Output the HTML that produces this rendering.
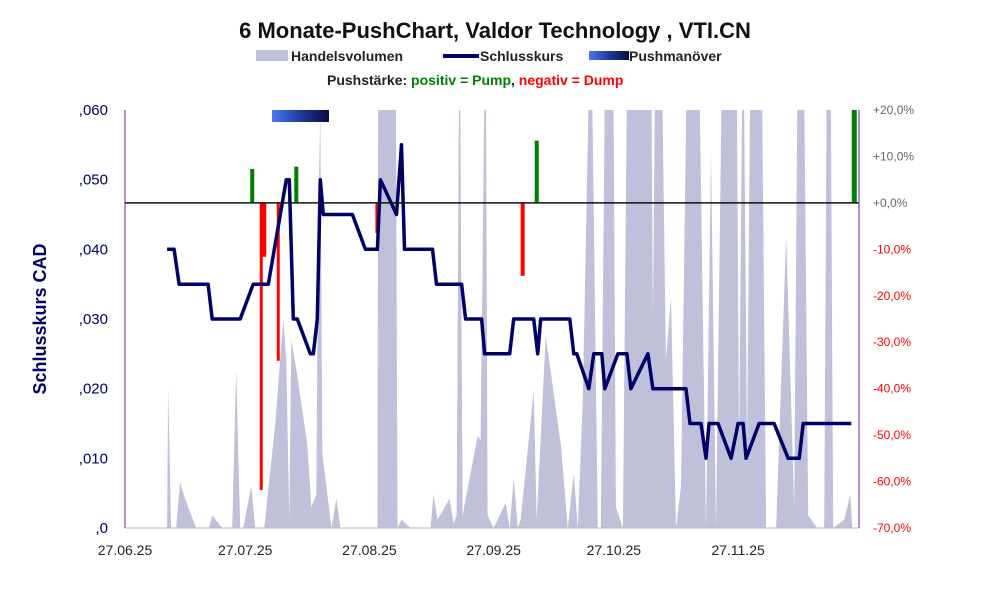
<!DOCTYPE html>
<html><head><meta charset="utf-8"><style>
body{margin:0;background:#fff;width:991px;height:593px;overflow:hidden;font-family:"Liberation Sans",sans-serif}
</style></head><body>
<svg id="chart" width="991" height="593" xmlns="http://www.w3.org/2000/svg">
<defs>
<linearGradient id="pg" x1="0" x2="1" y1="0" y2="0"><stop offset="0" stop-color="#4a78f0"/><stop offset="0.5" stop-color="#1f3a9a"/><stop offset="1" stop-color="#0a0a40"/></linearGradient>
<clipPath id="clip"><rect x="125" y="110" width="734" height="418"/></clipPath>
</defs>
<text x="495" y="38" text-anchor="middle" font-size="22" font-weight="bold" fill="#111">6 Monate-PushChart, Valdor Technology , VTI.CN</text>
<g font-size="14" font-weight="bold" fill="#222">
<rect x="256" y="50" width="32" height="11" fill="#c0c0da"/>
<text x="291" y="61">Handelsvolumen</text>
<rect x="443" y="54" width="36" height="4" fill="#000066"/>
<text x="480" y="61">Schlusskurs</text>
<rect x="589" y="51" width="40" height="9" fill="url(#pg)"/>
<text x="629" y="61">Pushmanöver</text>
<text x="327" y="85">Pushstärke:  <tspan fill="#008000">positiv = Pump</tspan>,  <tspan fill="#ff0000">negativ = Dump</tspan></text>
</g>
<text transform="translate(46,319) rotate(-90)" text-anchor="middle" font-size="18" font-weight="bold" fill="#000066">Schlusskurs CAD</text>
<g id="vol" clip-path="url(#clip)"></g>
<g id="push"></g>
<g id="price"></g>
<g id="axes"></g>
</svg>
<script>
const priceDays=[10.5,12.25,13.5,20.75,21.75,28.75,32,35.75,40.25,41,42,43,46.25,47,48,48.75,49.5,56.75,60,63,63.75,67.75,69,69.75,76.75,77.75,84,85,89,89.75,96,97,102,103,103.75,111,112,112.75,115.75,117,119,119.75,123,125.25,126.25,130.5,131.75,140,141,143.75,145,145.75,148,151.25,153,154.25,155,158.25,162,165.5,168.25,169.25,181.25];
const priceVals=[.040,.040,.035,.035,.030,.030,.035,.035,.050,.050,.030,.030,.025,.025,.030,.050,.045,.045,.040,.040,.050,.045,.055,.040,.040,.035,.035,.030,.030,.025,.025,.030,.030,.025,.030,.030,.025,.025,.020,.025,.025,.020,.025,.025,.020,.025,.020,.020,.015,.015,.010,.015,.015,.010,.015,.015,.010,.015,.015,.010,.010,.015,.015];
const volDays=[0,10.5,10.75,11.5,12.75,13.75,15,17.75,21,21.75,24.25,26.75,27.75,28.75,29.5,31.5,32.5,34.75,37.5,39.5,40.25,41,41.5,42.75,45.5,46.5,47.75,48.25,48.75,49.25,51.5,52.75,53.75,60,63,63.25,67.5,68,69,71.25,76.25,77,78,81,82,82.75,83.5,84.25,88,88.75,90,90.5,92,95,96,97,98,98.75,102,102.75,105,108.75,110.5,112,113,114.25,116.25,118,118.75,120,121.75,122.5,124.25,125.5,131.25,131.75,132.5,133.75,135,136.25,137.5,138.75,140.5,143,145,146.25,147.5,149.25,152.5,153.25,154.25,155.25,156.25,158.75,160,162.5,165,167,168,169.25,170.5,172.75,174.5,175.25,176,176.75,179.5,181,181.5,183.5];
const volVals=[0,0,34,0,0,11,7,0,0,3,0,0,38,0,0,10,0,0,25,50,40,2,45,38,20,5,8,75,100,18,0,7,0,0,0,130,130,0,2,0,0,8,2,7,1,3,130,3,22,21,130,3,0,6,0,12,0,2,33,2,46,20,0,13,0,31,130,0,0,130,130,5,0,130,130,50,130,130,40,55,0,10,130,130,0,90,0,130,130,20,130,20,130,130,0,0,70,5,130,130,3,0,0,130,130,0,2,8,0,0];
const pushDays=[31.75,34,34.75,38.25,42.75,62.75,99.25,102.75,182];
const pushVals=[7.3,-61.8,-11.6,-34,7.8,-6.5,-15.7,13.4,20];
const pushWidths=[4,3,4,3,4,2,4,4,5];
const leftTicks=[",0",",010",",020",",030",",040",",050",",060"];
const rightTicks=["-70,0%","-60,0%","-50,0%","-40,0%","-30,0%","-20,0%","-10,0%","+0,0%","+10,0%","+20,0%"];
const dateLabels=["27.06.25","27.07.25","27.08.25","27.09.25","27.10.25","27.11.25"];
const dateDays=[0,30,61,92,122,153];

const X0=125,X1=859,Y0=528,Y1=110,PXD=4.007;
const xs=d=>X0+d*PXD;
const yP=v=>Y0-v/0.06*(Y0-Y1);
const yV=v=>Y0-v/100*(Y0-Y1);
const yR=p=>Y0-(p+70)/90*(Y0-Y1);
const NS="http://www.w3.org/2000/svg";
function mk(t,a,parent){const e=document.createElementNS(NS,t);for(const k in a)e.setAttribute(k,a[k]);parent.appendChild(e);return e;}

const vg=document.getElementById('vol');
let d="M"+xs(volDays[0])+","+Y0;
volDays.forEach((v,i)=>{d+=" L"+xs(v).toFixed(1)+","+yV(volVals[i]).toFixed(1);});
d+=" L"+xs(volDays[volDays.length-1])+","+Y0+"Z";
const va=mk('path',{d:d,fill:'#c0c0da'},vg);



const ax=document.getElementById('axes');
const zl=mk('line',{x1:X0,x2:X1,y1:yR(0),y2:yR(0),stroke:'#111','stroke-width':1.5},ax);


const xa=mk('line',{x1:X0,x2:X1,y1:Y0,y2:Y0,stroke:'#bbb','stroke-width':1},ax);


const la=mk('line',{x1:X0,x2:X0,y1:Y1,y2:Y0,stroke:'#6a1ab0','stroke-width':1},ax);


const ra=mk('line',{x1:X1,x2:X1,y1:Y1,y2:Y0,stroke:'#6a1ab0','stroke-width':1},ax);



const pg=document.getElementById('push');
const pm=mk('rect',{x:272,y:Y1,width:57,height:12,fill:'url(#pg)'},pg);


pushDays.forEach((p,i)=>{
 const v=pushVals[i],w=pushWidths[i];
 const y0=yR(0),y1=yR(v);
 const r=mk('rect',{x:xs(p)-w/2,y:Math.min(y0,y1),width:w,height:Math.abs(y1-y0),fill:v>=0?'#008000':'#ff0000'},pg);
 
 
});

const prg=document.getElementById('price');
const pts=priceDays.map((p,i)=>xs(p).toFixed(1)+","+yP(priceVals[i]).toFixed(1)).join(" ");
const pl=mk('polyline',{points:pts,fill:'none',stroke:'#000066','stroke-width':3.5,'stroke-linejoin':'round'},prg);



leftTicks.forEach((t,i)=>{
 const e=mk('text',{x:108,y:yP(i*0.01)+5,'text-anchor':'end','font-size':15,fill:'#000066'},ax);
 e.textContent=t;
 
 
});
rightTicks.forEach((t,i)=>{
 const v=-70+i*10;
 const e=mk('text',{x:873,y:yR(v)+4,'font-size':12,fill:v<0?'#ff0000':'#666'},ax);
 e.textContent=t;
 
 
});
dateLabels.forEach((t,i)=>{
 const e=mk('text',{x:xs(dateDays[i]),y:555,'text-anchor':'middle','font-size':14,fill:'#222'},ax);
 e.textContent=t;
 
 
});
</script>
</body></html>
